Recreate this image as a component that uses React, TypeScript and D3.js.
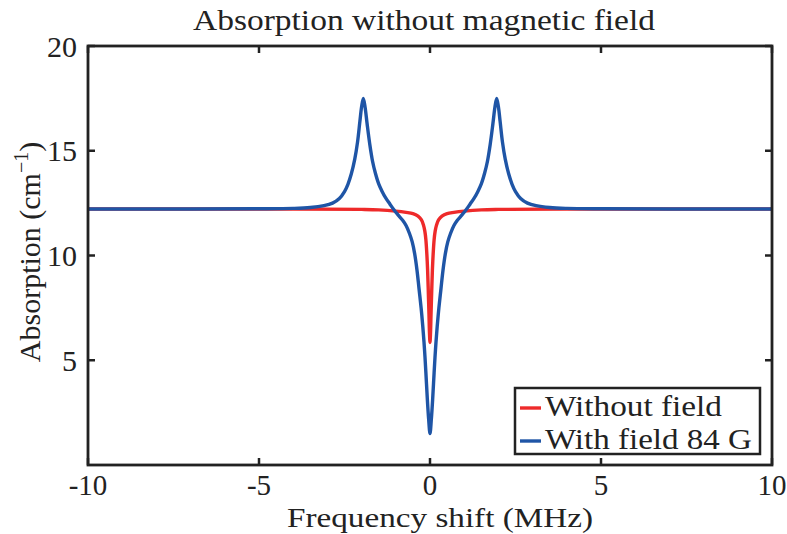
import React from "react";
import * as d3 from "d3";

const xTicks = [-10, -5, 0, 5, 10];
const yTicks = [5, 10, 15, 20];
const xTickLabels = ["-10", "-5", "0", "5", "10"];
const yTickLabels = ["5", "10", "15", "20"];

const redX = [-10, -4, -2, -1.5, -1.0, -0.7, -0.5, -0.35, -0.25, -0.19, -0.15, -0.12, -0.09, -0.07, -0.05, -0.03, -0.015, 0,
  0.015, 0.03, 0.05, 0.07, 0.09, 0.12, 0.15, 0.19, 0.25, 0.35, 0.5, 0.7, 1.0, 1.5, 2, 4, 10];
const redY = [12.22, 12.22, 12.2, 12.18, 12.12, 12.06, 12.0, 11.88, 11.7, 11.45, 11.15, 10.75, 10.0, 9.3, 8.3, 7.2, 6.3, 5.85,
  6.3, 7.2, 8.3, 9.3, 10.0, 10.75, 11.15, 11.45, 11.7, 11.88, 12.0, 12.06, 12.12, 12.18, 12.2, 12.22, 12.22];

const blueX = [-10, -7, -5, -4, -3.5, -3.1, -2.85, -2.65, -2.5, -2.4, -2.3, -2.2, -2.12, -2.05, -2.0, -1.95, -1.9, -1.84, -1.76, -1.68, -1.6, -1.5, -1.4, -1.3, -1.17, -1.05, -0.93, -0.8, -0.7, -0.6, -0.52, -0.45, -0.38, -0.32, -0.26, -0.21, -0.16, -0.12, -0.08, -0.04, 0,
  0.04, 0.08, 0.12, 0.16, 0.21, 0.26, 0.32, 0.38, 0.45, 0.52, 0.6, 0.7, 0.8, 0.93, 1.05, 1.17, 1.3, 1.4, 1.5, 1.6, 1.68, 1.76, 1.84, 1.9, 1.95, 2.0, 2.05, 2.12, 2.2, 2.3, 2.4, 2.5, 2.65, 2.85, 3.1, 3.5, 4, 5, 7, 10];
const blueY = [12.22, 12.22, 12.23, 12.25, 12.29, 12.38, 12.5, 12.72, 13.05, 13.4, 13.9, 14.6, 15.4, 16.4, 17.1, 17.5, 17.1, 16.3, 15.3, 14.5, 13.95, 13.42, 13.06, 12.76, 12.45, 12.17, 11.93, 11.68, 11.43, 11.05, 10.65, 10.1, 9.3, 8.4, 7.5, 6.6, 5.5, 4.4, 3.2, 2.2, 1.5,
  2.2, 3.2, 4.4, 5.5, 6.6, 7.5, 8.4, 9.3, 10.1, 10.65, 11.05, 11.43, 11.68, 11.93, 12.17, 12.45, 12.76, 13.06, 13.42, 13.95, 14.5, 15.3, 16.3, 17.1, 17.5, 17.1, 16.4, 15.4, 14.6, 13.9, 13.4, 13.05, 12.72, 12.5, 12.38, 12.29, 12.25, 12.23, 12.22, 12.22];

const seriesNames = ["Without field", "With field 84 G"];
const RED = "#ee2a2a";
const BLUE = "#1f55a6";
const FONT = "\"Liberation Serif\", \"Times New Roman\", Times, serif";
const INK = "#222";

export default function App() {
  const W = 787, H = 534;
  const L = 88, R = 772, T = 46, B = 465;
  const x = d3.scaleLinear().domain([-10, 10]).range([L, R]);
  const y = d3.scaleLinear().domain([0, 20]).range([B, T]);
  const line = d3.line<[number, number]>().x(d => x(d[0])).y(d => y(d[1])).curve(d3.curveCatmullRom.alpha(0.5));
  const redPts = redX.map((v, i) => [v, redY[i]] as [number, number]);
  const bluePts = blueX.map((v, i) => [v, blueY[i]] as [number, number]);
  const tl = 7;
  const ts = { fontFamily: FONT } as React.CSSProperties;
  return (
    <svg width={W} height={H} style={{ position: "absolute", left: 0, top: 0, background: "#fff" }}>
      <rect x={0} y={0} width={W} height={H} fill="#fff" />
      <defs>
        <clipPath id="clip"><rect x={L} y={T} width={R - L} height={B - T} /></clipPath>
      </defs>
      <g clipPath="url(#clip)">
        <path d={line(redPts) || ""} fill="none" stroke={RED} strokeWidth={3.4} strokeLinejoin="round" />
        <path d={line(bluePts) || ""} fill="none" stroke={BLUE} strokeWidth={3.4} strokeLinejoin="round" />
      </g>
      {xTicks.map(t => (
        <g key={"xt" + t}>
          <line x1={x(t)} x2={x(t)} y1={B} y2={B - tl} stroke={INK} strokeWidth={2.5} />
          <line x1={x(t)} x2={x(t)} y1={T} y2={T + tl} stroke={INK} strokeWidth={2.5} />
        </g>
      ))}
      {yTicks.map(t => (
        <g key={"yt" + t}>
          <line x1={L} x2={L + tl} y1={y(t)} y2={y(t)} stroke={INK} strokeWidth={2.5} />
          <line x1={R} x2={R - tl} y1={y(t)} y2={y(t)} stroke={INK} strokeWidth={2.5} />
        </g>
      ))}
      <rect x={L} y={T} width={R - L} height={B - T} fill="none" stroke={INK} strokeWidth={2.8} />
      <g style={ts} fill={INK}>
        {xTicks.map((t, i) => (
          <text key={"xl" + t} x={x(t)} y={495} textAnchor="middle" fontSize={29}>{xTickLabels[i]}</text>
        ))}
        {yTicks.map((t, i) => (
          <text key={"yl" + t} x={77} y={y(t) + 10.5} textAnchor="end" fontSize={30}>{yTickLabels[i]}</text>
        ))}
        <text x={424} y={30} textAnchor="middle" fontSize={30} textLength={462} lengthAdjust="spacingAndGlyphs">Absorption without magnetic field</text>
        <text x={440} y={527} textAnchor="middle" fontSize={28} textLength={306} lengthAdjust="spacingAndGlyphs">Frequency shift (MHz)</text>
        <text transform="translate(40,252) rotate(-90)" textAnchor="middle" fontSize={30}>
          Absorption (cm<tspan dy={-12} fontSize={20}>−1</tspan><tspan dy={12}>)</tspan>
        </text>
      </g>
      <rect x={515} y={388} width={245} height={66} fill="#fff" stroke={INK} strokeWidth={2.5} />
      <line x1={520} x2={541} y1={408} y2={408} stroke={RED} strokeWidth={3.4} />
      <line x1={520} x2={541} y1={441} y2={441} stroke={BLUE} strokeWidth={3.4} />
      <g style={ts} fill={INK}>
        <text x={545} y={416} fontSize={29} textLength={177} lengthAdjust="spacingAndGlyphs">{seriesNames[0]}</text>
        <text x={545} y={449} fontSize={29} textLength={207} lengthAdjust="spacingAndGlyphs">{seriesNames[1]}</text>
      </g>
    </svg>
  );
}
